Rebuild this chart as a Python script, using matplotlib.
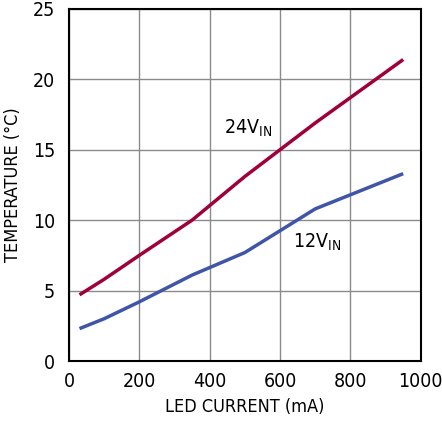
import matplotlib
matplotlib.use("Agg")
import matplotlib.pyplot as plt

current = [30, 100, 200, 350, 500, 700, 950]
temp_24v = [4.7, 5.8, 7.5, 10.0, 13.1, 16.9, 21.4]
temp_12v = [2.3, 3.0, 4.2, 6.1, 7.7, 10.8, 13.3]

plt.rcParams['font.family'] = ['DejaVu Sans']
plt.rcParams['font.stretch'] = 'condensed'
plt.rcParams['mathtext.fontset'] = 'custom'
plt.rcParams['mathtext.rm'] = 'DejaVu Sans:stretch=condensed'

fig = plt.figure(figsize=(4.42, 4.21), dpi=100)
ax = fig.add_axes([0.156, 0.1425, 0.796, 0.8365])

ax.plot(current, temp_24v, color='#A0003A', linewidth=2.5, solid_capstyle='butt')
ax.plot(current, temp_12v, color='#3F55A8', linewidth=2.5, solid_capstyle='butt')

ax.text(440, 16.5, r'24V$_\mathregular{IN}$', fontsize=14, va='center')
ax.text(636, 8.4, r'12V$_\mathregular{IN}$', fontsize=14, va='center')

ax.set_xlim(0, 1000)
ax.set_ylim(0, 25)
ax.set_xticks([0, 200, 400, 600, 800, 1000])
ax.set_yticks([0, 5, 10, 15, 20, 25])
ax.tick_params(length=0, labelsize=14)
ax.tick_params(axis='x', pad=8)
ax.tick_params(axis='y', pad=10)
ax.grid(True, color='#8a8a8a', linewidth=1)
ax.set_axisbelow(True)
for s in ax.spines.values():
    s.set_linewidth(1.5)
    s.set_color('black')

ax.set_xlabel('LED CURRENT (mA)', fontsize=13, labelpad=5)
ax.set_ylabel('TEMPERATURE (°C)', fontsize=13, labelpad=8)

fig.savefig('out.png', dpi=100)
